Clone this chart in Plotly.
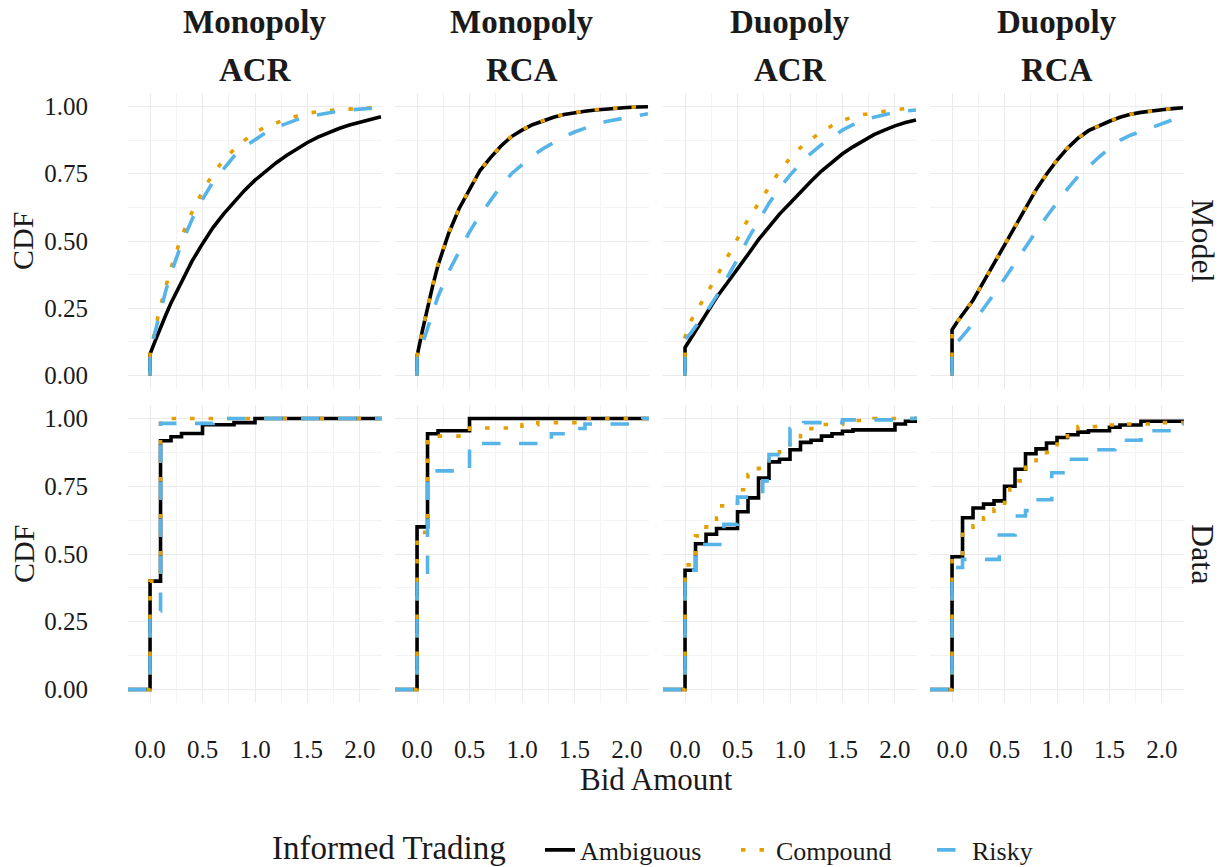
import plotly.graph_objects as go

# ---------------- data ----------------
X_MIN, X_MAX = -0.21, 2.21
Y_MIN, Y_MAX = -0.05, 1.05

MARKETS = ["Monopoly", "Monopoly", "Duopoly", "Duopoly"]
MECHS = ["ACR", "RCA", "ACR", "RCA"]
ROW_LABELS = ["Model", "Data"]
SERIES = ["Ambiguous", "Compound", "Risky"]
LEGEND_TITLE = "Informed Trading"

X_TICKS = [0.0, 0.5, 1.0, 1.5, 2.0]
Y_TICKS = [0.0, 0.25, 0.5, 0.75, 1.0]

# model CDF evaluation grid (bid amount)
MODEL_X = [0, 0.05, 0.1, 0.15, 0.2, 0.3, 0.4, 0.5, 0.6, 0.7, 0.8, 0.9, 1.0,
           1.1, 1.2, 1.3, 1.4, 1.5, 1.6, 1.7, 1.8, 1.9, 2.0, 2.1, 2.2]

# Monopoly ACR (model)
m1_amb = [0.08, 0.13, 0.18, 0.225, 0.27, 0.35, 0.425, 0.49, 0.55, 0.60, 0.645, 0.688, 0.726,
          0.76, 0.79, 0.818, 0.843, 0.866, 0.886, 0.903, 0.918, 0.931, 0.942, 0.953, 0.962]
m1_cmp = [0.08, 0.175, 0.26, 0.33, 0.40, 0.517, 0.607, 0.685, 0.75, 0.80, 0.84, 0.874, 0.903,
          0.924, 0.94, 0.953, 0.965, 0.975, 0.98, 0.985, 0.988, 0.99, 0.993, 0.996, 0.998]
m1_rsk = [0.08, 0.165, 0.245, 0.315, 0.38, 0.49, 0.58, 0.655, 0.72, 0.77, 0.815, 0.85, 0.878,
          0.902, 0.922, 0.938, 0.951, 0.962, 0.97, 0.977, 0.983, 0.987, 0.991, 0.994, 0.996]
# Monopoly RCA (model)
m2_amb = [0.072, 0.165, 0.255, 0.335, 0.41, 0.527, 0.62, 0.69, 0.762, 0.81, 0.853, 0.888, 0.912,
          0.932, 0.947, 0.96, 0.97, 0.977, 0.982, 0.987, 0.991, 0.994, 0.996, 0.998, 0.999]
m2_cmp = [0.072, 0.167, 0.257, 0.337, 0.412, 0.529, 0.622, 0.692, 0.763, 0.811, 0.854, 0.889, 0.913,
          0.933, 0.948, 0.961, 0.971, 0.978, 0.983, 0.988, 0.992, 0.995, 0.997, 0.998, 0.999]
m2_rsk = [0.07, 0.115, 0.17, 0.235, 0.294, 0.385, 0.46, 0.534, 0.596, 0.652, 0.705, 0.75, 0.785,
          0.816, 0.843, 0.866, 0.887, 0.905, 0.92, 0.933, 0.944, 0.952, 0.96, 0.967, 0.973]
# Duopoly ACR (model)
m3_amb = [0.104, 0.135, 0.167, 0.2, 0.232, 0.29, 0.343, 0.395, 0.45, 0.505, 0.555, 0.6, 0.64,
          0.682, 0.722, 0.76, 0.794, 0.824, 0.85, 0.874, 0.895, 0.912, 0.928, 0.94, 0.95]
m3_cmp = [0.144, 0.2, 0.235, 0.267, 0.3, 0.367, 0.437, 0.504, 0.58, 0.64, 0.703, 0.76, 0.808,
          0.847, 0.879, 0.906, 0.929, 0.948, 0.961, 0.97, 0.977, 0.983, 0.988, 0.992, 0.996]
m3_rsk = [0.135, 0.155, 0.18, 0.207, 0.235, 0.295, 0.362, 0.432, 0.508, 0.577, 0.64, 0.696, 0.745,
          0.787, 0.826, 0.858, 0.887, 0.912, 0.932, 0.948, 0.96, 0.97, 0.978, 0.983, 0.987]
# Duopoly RCA (model)
m4_amb = [0.17, 0.2, 0.225, 0.252, 0.28, 0.348, 0.416, 0.484, 0.553, 0.623, 0.69, 0.748, 0.8,
          0.845, 0.882, 0.91, 0.928, 0.945, 0.96, 0.971, 0.978, 0.984, 0.988, 0.992, 0.995]
m4_cmp = [0.17, 0.2, 0.226, 0.253, 0.281, 0.349, 0.417, 0.485, 0.554, 0.624, 0.691, 0.749, 0.801,
          0.846, 0.883, 0.911, 0.929, 0.946, 0.96, 0.971, 0.978, 0.984, 0.988, 0.992, 0.995]
m4_rsk = [0.105, 0.123, 0.145, 0.17, 0.195, 0.248, 0.303, 0.36, 0.42, 0.478, 0.535, 0.59, 0.643,
          0.694, 0.74, 0.778, 0.812, 0.845, 0.874, 0.893, 0.907, 0.922, 0.937, 0.95, 0.96]

# empirical CDFs (jump locations and CDF level after each jump)
d1_amb_x = [0, 0.1, 0.2, 0.3, 0.5, 0.8, 1.0]
d1_amb_y = [0.40, 0.918, 0.933, 0.945, 0.977, 0.985, 1.0]
d1_cmp_x = [0, 0.1, 0.2]
d1_cmp_y = [0.40, 0.995, 1.0]
d1_rsk_x = [0, 0.1, 0.6, 0.7]
d1_rsk_y = [0.29, 0.982, 0.995, 1.0]

d2_amb_x = [0, 0.1, 0.2, 0.5]
d2_amb_y = [0.60, 0.944, 0.955, 1.0]
d2_cmp_x = [0, 0.1, 0.5, 1.0, 1.15, 1.55]
d2_cmp_y = [0.58, 0.935, 0.965, 0.977, 0.985, 1.0]
d2_rsk_x = [0, 0.1, 0.5, 1.28, 1.45, 1.6, 2.15]
d2_rsk_y = [0.41, 0.807, 0.908, 0.944, 0.963, 0.98, 1.0]

d3_amb_x = [0, 0.1, 0.2, 0.3, 0.5, 0.6, 0.7, 0.8, 0.9, 1.0, 1.1, 1.2, 1.3, 1.4, 1.5, 1.6, 2.0, 2.1, 2.2]
d3_amb_y = [0.44, 0.538, 0.573, 0.594, 0.656, 0.707, 0.78, 0.84, 0.85, 0.885, 0.912, 0.92, 0.935,
            0.944, 0.953, 0.958, 0.98, 0.99, 1.0]
d3_cmp_x = [0, 0.1, 0.2, 0.3, 0.35, 0.5, 0.6, 0.7, 0.8, 0.9, 1.0, 1.1, 1.2, 1.3, 1.5, 1.6, 1.8]
d3_cmp_y = [0.46, 0.567, 0.60, 0.633, 0.678, 0.737, 0.793, 0.816, 0.86, 0.888, 0.91, 0.937, 0.963,
            0.978, 0.985, 0.993, 1.0]
d3_rsk_x = [0, 0.1, 0.37, 0.5, 0.74, 0.8, 1.0, 1.13, 1.5, 2.1]
d3_rsk_y = [0.44, 0.535, 0.61, 0.71, 0.77, 0.867, 0.963, 0.985, 0.995, 1.0]

d4_amb_x = [0, 0.1, 0.2, 0.3, 0.4, 0.5, 0.6, 0.7, 0.8, 0.9, 1.0, 1.1, 1.2, 1.3, 1.5, 1.6, 1.8]
d4_amb_y = [0.49, 0.634, 0.67, 0.684, 0.696, 0.75, 0.813, 0.87, 0.888, 0.91, 0.93, 0.94, 0.95,
            0.955, 0.968, 0.976, 0.99]
d4_cmp_x = [0, 0.1, 0.2, 0.3, 0.4, 0.5, 0.55, 0.6, 0.7, 0.8, 0.9, 1.0, 1.1, 1.2, 1.4, 1.6, 2.0]
d4_cmp_y = [0.49, 0.573, 0.604, 0.634, 0.666, 0.69, 0.74, 0.77, 0.82, 0.847, 0.875, 0.906, 0.944,
            0.97, 0.976, 0.98, 0.985]
d4_rsk_x = [0, 0.1, 0.45, 0.6, 0.7, 0.8, 0.95, 1.1, 1.3, 1.55, 1.8, 2.1]
d4_rsk_y = [0.45, 0.48, 0.57, 0.64, 0.66, 0.70, 0.80, 0.85, 0.885, 0.92, 0.955, 0.98]

MODEL_CURVES = [[m1_amb, m1_cmp, m1_rsk], [m2_amb, m2_cmp, m2_rsk],
                [m3_amb, m3_cmp, m3_rsk], [m4_amb, m4_cmp, m4_rsk]]
DATA_CURVES = [[(d1_amb_x, d1_amb_y), (d1_cmp_x, d1_cmp_y), (d1_rsk_x, d1_rsk_y)],
               [(d2_amb_x, d2_amb_y), (d2_cmp_x, d2_cmp_y), (d2_rsk_x, d2_rsk_y)],
               [(d3_amb_x, d3_amb_y), (d3_cmp_x, d3_cmp_y), (d3_rsk_x, d3_rsk_y)],
               [(d4_amb_x, d4_amb_y), (d4_cmp_x, d4_cmp_y), (d4_rsk_x, d4_rsk_y)]]

# ---------------- style / layout ----------------
W, H = 1223, 867
COL_PX = [(128, 382), (395, 649), (663, 917), (930, 1184)]
ROW_PX = [(93, 389), (405, 703)]
FONT = "Liberation Serif"
TXT = "#1A1A1A"
COLORS = ["#000000", "#E69F00", "#56B4E9"]
DASHES = ["solid", "4.5px,14px", "18.5px,18.5px"]
LW = 3.6
GRID = "#EBEBEB"
GRID_MINOR = "#F3F3F3"


def fx(px):
    return px / W


def fy(py):
    return 1 - py / H


fig = go.Figure()
layout = {}

for r in range(2):
    for c in range(4):
        k = r * 4 + c + 1
        sfx = "" if k == 1 else str(k)
        layout["xaxis" + sfx] = dict(
            domain=[fx(COL_PX[c][0]), fx(COL_PX[c][1])], anchor="y" + sfx,
            range=[X_MIN, X_MAX], tickmode="array", tickvals=X_TICKS,
            ticktext=[f"{v:.1f}" for v in X_TICKS],
            showgrid=True, gridcolor=GRID, gridwidth=1.4, zeroline=False, showline=False,
            minor=dict(tickmode="array", tickvals=[0.25, 0.75, 1.25, 1.75],
                       showgrid=True, gridcolor=GRID_MINOR, gridwidth=1),
            showticklabels=(r == 1), ticks="outside" if r == 1 else "",
            ticklen=24, tickcolor="rgba(0,0,0,0)",
            tickfont=dict(family=FONT, size=25, color=TXT),
        )
        layout["yaxis" + sfx] = dict(
            domain=[fy(ROW_PX[r][1]), fy(ROW_PX[r][0])], anchor="x" + sfx,
            range=[Y_MIN, Y_MAX], tickmode="array", tickvals=Y_TICKS,
            ticktext=[f"{v:.2f}" for v in Y_TICKS],
            showgrid=True, gridcolor=GRID, gridwidth=1.4, zeroline=False, showline=False,
            minor=dict(tickmode="array", tickvals=[0.125, 0.375, 0.625, 0.875],
                       showgrid=True, gridcolor=GRID_MINOR, gridwidth=1),
            showticklabels=(c == 0), ticks="outside" if c == 0 else "",
            ticklen=34, tickcolor="rgba(0,0,0,0)",
            tickfont=dict(family=FONT, size=25, color=TXT),
        )
        for s in range(3):
            if r == 0:
                xs = [0] + MODEL_X
                ys = [0] + MODEL_CURVES[c][s]
                shape = "linear"
            else:
                dx, dy = DATA_CURVES[c][s]
                xs = [X_MIN] + dx + [X_MAX]
                ys = [0] + dy + [dy[-1]]
                shape = "hv"
            fig.add_trace(go.Scatter(
                x=xs, y=ys, mode="lines", name=SERIES[s], legendgroup=SERIES[s],
                showlegend=(k == 1), xaxis="x" + sfx, yaxis="y" + sfx,
                line=dict(color=COLORS[s], width=LW, dash=DASHES[s], shape=shape),
                hoverinfo="skip",
            ))

ann = []
for c in range(4):
    cx = fx((COL_PX[c][0] + COL_PX[c][1]) / 2)
    ann.append(dict(text=f"<b>{MARKETS[c]}</b>", x=cx, y=fy(22), xref="paper", yref="paper",
                    showarrow=False, xanchor="center", yanchor="middle",
                    font=dict(family=FONT, size=33, color=TXT)))
    ann.append(dict(text=f"<b>{MECHS[c]}</b>", x=cx, y=fy(70), xref="paper", yref="paper",
                    showarrow=False, xanchor="center", yanchor="middle",
                    font=dict(family=FONT, size=33, color=TXT)))
for r in range(2):
    cy = fy((ROW_PX[r][0] + ROW_PX[r][1]) / 2)
    ann.append(dict(text=ROW_LABELS[r], x=fx(1203), y=cy, xref="paper", yref="paper",
                    showarrow=False, xanchor="center", yanchor="middle", textangle=90,
                    font=dict(family=FONT, size=32, color=TXT)))
    ann.append(dict(text="CDF", x=fx(23), y=cy, xref="paper", yref="paper",
                    showarrow=False, xanchor="center", yanchor="middle", textangle=-90,
                    font=dict(family=FONT, size=30, color=TXT)))
ann.append(dict(text="Bid Amount", x=fx(656), y=fy(779), xref="paper", yref="paper",
                showarrow=False, xanchor="center", yanchor="middle",
                font=dict(family=FONT, size=31, color=TXT)))
# legend title, placed on the same baseline as the legend entries
ann.append(dict(text=LEGEND_TITLE, x=fx(508), y=fy(848), xref="paper", yref="paper",
                showarrow=False, xanchor="right", yanchor="middle",
                font=dict(family=FONT, size=33, color=TXT)))

fig.update_layout(
    width=W, height=H, margin=dict(l=0, r=0, t=0, b=0, autoexpand=False),
    paper_bgcolor="white", plot_bgcolor="white",
    annotations=ann,
    legend=dict(orientation="h", x=fx(540), xanchor="left", y=fy(850), yanchor="middle",
                entrywidth=151, entrywidthmode="pixels",
                font=dict(family=FONT, size=26, color=TXT), bgcolor="rgba(0,0,0,0)"),
    **layout,
)

fig.write_html("out.html")
